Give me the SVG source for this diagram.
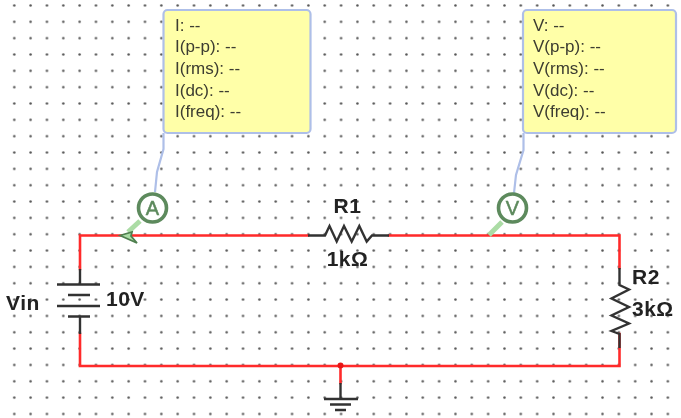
<svg xmlns="http://www.w3.org/2000/svg" width="681" height="418" viewBox="0 0 681 418">
<defs>
<pattern id="grid" x="6.1" y="-2.7" width="16.34" height="16.34" patternUnits="userSpaceOnUse"><circle cx="8.17" cy="8.17" r="1.25" fill="#555"/></pattern>
<filter id="soft" x="-5%" y="-5%" width="110%" height="110%"><feGaussianBlur stdDeviation="0.5"/></filter>
</defs>
<style>
.w{fill:none;stroke:#ff2a2a;stroke-width:2.6;stroke-linecap:square}
.k{fill:none;stroke:#333;stroke-width:2.4}
.l{fill:none;stroke:#aebfe8;stroke-width:2.2}
.box{fill:#ffffa8;stroke:#aebfe8;stroke-width:2.2}
.t{font-family:"Liberation Sans",Arial,sans-serif;font-size:17px;fill:#3c3c30}
.b{font-family:"Liberation Sans",Arial,sans-serif;font-size:21px;font-weight:700;letter-spacing:.5px;fill:#222}
.m{fill:#fff;stroke:#5d8a5d;stroke-width:3.6}
.p{fill:none;stroke:#abdca5;stroke-width:5}
.g{font-family:"Liberation Sans",Arial,sans-serif;font-size:20px;text-anchor:middle;fill:#5d8a5d;stroke:#5d8a5d;stroke-width:.5}
</style>
<rect width="681" height="418" fill="#fff"/>
<rect width="681" height="418" fill="url(#grid)"/>
<g filter="url(#soft)">
<g id="connectors">
<path class="w" d="M308 235.5H80V269M389 235.5H619.5V268M619.5 334V366H80V334M340.5 366V383"/>
<path class="l" d="M163.5 133V149L157 172L155 192"/>
<path class="l" d="M523.5 133V150L516 175L514 193"/>
<path class="p" d="M140 221L128 232"/>
<path class="p" d="M502 222L489 235"/>
</g>
<g id="probe-a"><path d="M120 235.5L132 232L131 236L137 243Z" fill="#abdca5" stroke="#4f7f4f" stroke-width="1.8"/></g>
<g id="meter-box-i"><rect class="box" x="163.5" y="10" width="147" height="123" rx="4"/>
<text class="t" x="175" y="31">I: --</text><text class="t" x="175" y="52">I(p-p): --</text><text class="t" x="175" y="74">I(rms): --</text><text class="t" x="175" y="96">I(dc): --</text><text class="t" x="175" y="117">I(freq): --</text></g>
<g id="meter-box-v"><rect class="box" x="523" y="10" width="153" height="123" rx="4"/>
<text class="t" x="533" y="31">V: --</text><text class="t" x="533" y="52">V(p-p): --</text><text class="t" x="533" y="74">V(rms): --</text><text class="t" x="533" y="96">V(dc): --</text><text class="t" x="533" y="117">V(freq): --</text></g>
<g id="ammeter"><circle class="m" cx="152.5" cy="208" r="14"/><text class="g" x="152.5" y="215">A</text></g>
<g id="voltmeter"><circle class="m" cx="512.5" cy="208" r="14"/><text class="g" x="512.5" y="215">V</text></g>
<g id="R1"><path class="k" d="M308 235.5H325L329.5 226L336.7 241.5L344 226L351.7 241.5L359.3 226L366.7 241.5L372 235.5H389"/>
<text class="b" x="347.5" y="213" text-anchor="middle">R1</text><text class="b" x="347.5" y="266" text-anchor="middle">1kΩ</text></g>
<g id="R2"><path class="k" d="M619.5 268V285L629 289.5L611.5 298.5L629 307L611.5 315.5L629 323.5L611.5 331L619.5 334V348"/>
<text class="b" x="632" y="284">R2</text><text class="b" x="632" y="316">3kΩ</text></g>
<g id="Vin"><path class="k" d="M80 269V284M57 284.5H100M68 295H90M57 306H100M68 316.5H90M80 317V334"/>
<text class="b" x="6" y="310">Vin</text><text class="b" x="106" y="306">10V</text></g>
<g id="ground"><path class="k" d="M340.5 383V399M324 399H358M330 404.5H351M335 410H346"/></g>
<g id="junction"><circle cx="340.5" cy="365.5" r="3" fill="#e81818"/></g>
</g>
</svg>
